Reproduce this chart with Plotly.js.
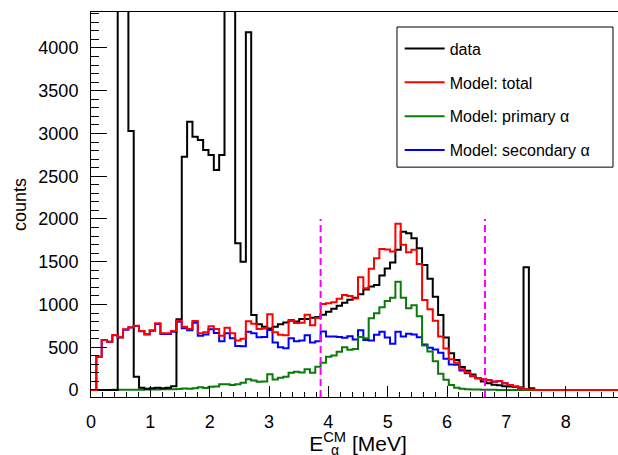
<!DOCTYPE html>
<html>
<head>
<meta charset="utf-8">
<script src="https://cdn.plot.ly/plotly-3.0.1.min.js"></script>
<style>
html,body{margin:0;padding:0;overflow:hidden;background:#fff;width:618px;height:455px;}
#chart{width:626px;height:455px;}
</style>
</head>
<body>
<div id="chart"></div>
<script>
// Histogram definition: 100 bins from 0 to 9 MeV
const xLow = 0, xHigh = 9, nBins = 100;

const dataCounts = [0,0,0,0,0,5800,5200,3030,156,25,15,20,25,20,25,43,827,2729,3138,2963,
  2924,2807,2749,2573,2749,5600,5600,1715,1500,4184,877,770,740,720,740,768,790,815,800,830,
  830,845,855,880,916,950,985,1020,1055,1080,1120,1175,1210,1228,1340,1420,1490,1640,1852,1832,
  1774,1657,1462,1300,1090,877,615,430,350,270,225,180,137,100,78,60,55,45,40,35,
  30,1435,20,0,0,0,0,0,0,0,0,0,0,0,0,0,0,0,0,0];

const totalModel = [0,390,585,565,643,616,709,733,752,690,655,698,780,663,663,690,811,740,713,807,
  663,675,745,713,635,729,663,580,598,805,775,713,720,885,675,645,640,807,784,787,
  880,758,843,1005,1015,1027,1068,1110,1100,1070,1320,1189,1418,1540,1650,1644,1620,1945,1700,1610,
  1640,1475,1053,945,810,625,485,360,320,242,207,167,141,125,117,99,104,79,59,40,
  27,10,5,0,0,0,0,0,0,0,0,0,0,0,0,0,0,0,0,0];

const primaryAlpha = [0,1,1,1,2,2,3,3,4,4,5,6,7,8,9,10,12,18,15,20,
  31,22,39,40,66,66,58,66,86,125,110,95,100,183,122,144,156,203,214,205,
  242,203,273,320,390,402,448,500,470,480,620,604,838,897,967,1040,1080,1265,1080,955,
  990,862,521,450,335,190,120,58,25,15,10,7,5,3,2,2,1,1,1,0,
  0,0,0,0,0,0,0,0,0,0,0,0,0,0,0,0,0,0,0,0];

const secondaryAlpha = [0,389,584,564,641,614,706,730,748,686,650,692,773,655,654,680,799,722,698,787,
  635,650,710,668,570,663,605,515,512,680,665,618,620,702,555,500,487,604,570,580,
  640,555,570,685,625,625,620,610,630,590,700,585,580,645,680,615,540,680,625,658,
  650,616,532,495,475,435,365,298,295,227,197,160,136,122,115,97,103,78,58,40,
  27,10,5,0,0,0,0,0,0,0,0,0,0,0,0,0,0,0,0,0];

const seriesNames = ['data', 'Model: total', 'Model: primary \u03b1', 'Model: secondary \u03b1'];
const cutEnergies = [3.87, 6.64];
const cutHeight = 2000;

const FONT = 'Liberation Sans, Arial, Helvetica, sans-serif';

function stepTrace(values, name, color, rank) {
  const w = (xHigh - xLow) / nBins;
  const x = [], y = [];
  for (let i = 0; i < nBins; i++) { x.push(xLow + i * w); y.push(values[i]); }
  x.push(xHigh); y.push(values[nBins - 1]);
  return {type: 'scatter', mode: 'lines', x: x, y: y, name: name,
    legendgroup: 'g' + rank, legendrank: rank,
    line: {color: color, width: 2, shape: 'hv'}, hoverinfo: 'skip'};
}

const traces = [
  stepTrace(secondaryAlpha, seriesNames[3], '#0000ff', 4),
  stepTrace(primaryAlpha, seriesNames[2], '#0b7a0b', 3),
  stepTrace(dataCounts, seriesNames[0], '#000000', 1),
  stepTrace(totalModel, seriesNames[1], '#ff0000', 2)
];

const yMin = -82, yMax = 4421;

const shapes = cutEnergies.map(e => ({
  type: 'line', xref: 'x', yref: 'y', x0: e, x1: e, y0: yMin, y1: cutHeight,
  line: {color: '#ff00ff', width: 2, dash: '7px,4px'}, layer: 'above'
}));
// legend frame
shapes.push({type: 'rect', xref: 'paper', yref: 'paper', x0: 0.573, x1: 0.9775, y0: 0.597, y1: 0.961,
  line: {color: '#000', width: 1}, fillcolor: '#ffffff', layer: 'above'});

const layout = {
  width: 626, height: 455,
  margin: {l: 91, r: 1, t: 12, b: 58},
  paper_bgcolor: '#ffffff', plot_bgcolor: '#ffffff',
  font: {family: FONT, size: 18, color: '#000'},
  showlegend: true,
  legend: {x: 0.578, y: 0.949, xanchor: 'left', yanchor: 'top',
    bgcolor: 'rgba(0,0,0,0)', borderwidth: 0,
    font: {family: FONT, size: 16, color: '#000'},
    tracegroupgap: 10, traceorder: 'grouped', itemwidth: 40},
  xaxis: {
    range: [xLow, xHigh], dtick: 1, tick0: 0,
    ticks: 'inside', ticklen: 11, tickwidth: 1, tickcolor: '#000',
    minor: {dtick: 0.2, ticks: 'inside', ticklen: 5, tickcolor: '#000', tickwidth: 1},
    showline: true, linecolor: '#000', linewidth: 1, mirror: true,
    showgrid: false, zeroline: false,
    tickfont: {family: FONT, size: 18}, ticklabelstandoff: 8,
    title: {text: 'E<sup>CM</sup> [MeV]', font: {family: FONT, size: 21}, standoff: 8}
  },
  yaxis: {
    range: [yMin, yMax], dtick: 500, tick0: 0,
    ticks: 'inside', ticklen: 16, tickwidth: 1, tickcolor: '#000',
    minor: {dtick: 100, ticks: 'inside', ticklen: 8, tickcolor: '#000', tickwidth: 1},
    showline: true, linecolor: '#000', linewidth: 1, mirror: true,
    showgrid: false, zeroline: false,
    tickfont: {family: FONT, size: 18}, ticklabelstandoff: 8,
    title: {text: 'counts', font: {family: FONT, size: 18}, standoff: 7}
  },
  shapes: shapes,
  annotations: [{
    text: '\u03b1', xref: 'paper', yref: 'paper', x: 0.445, y: -0.138,
    xanchor: 'left', yanchor: 'middle', showarrow: false,
    font: {family: FONT, size: 14, color: '#000'}
  }]
};

Plotly.newPlot('chart', traces, layout, {displayModeBar: false, staticPlot: true});
</script>
</body>
</html>
